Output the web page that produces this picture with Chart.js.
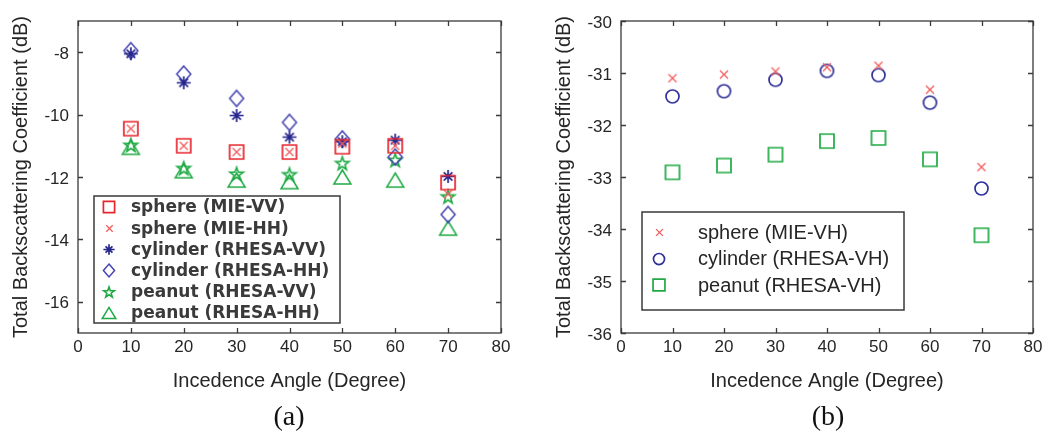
<!DOCTYPE html>
<html>
<head>
<meta charset="utf-8">
<script src="https://cdn.jsdelivr.net/npm/chart.js@4"></script>
<style>
  html, body { margin: 0; padding: 0; background: #fff; }
  body { width: 1047px; height: 431px; position: relative; overflow: hidden; }
  canvas { position: absolute; top: 0; }
  #cA { left: 0; }
  #cB { left: 540px; }
  .cap { position: absolute; font-family: "Liberation Serif", "DejaVu Serif", serif; font-size: 28px; color: #111; transform: translate(-50%, -50%); top: 416px; }
</style>
</head>
<body>
<canvas id="cA" width="520" height="431"></canvas>
<canvas id="cB" width="507" height="431"></canvas>
<div class="cap" style="left:289px">(a)</div>
<div class="cap" style="left:828px">(b)</div>
<script>
// ---------- data ----------
const angles = [10, 20, 30, 40, 50, 60, 70];
const xTicks = [0, 10, 20, 30, 40, 50, 60, 70, 80];
const leftYTicks = [-16, -14, -12, -10, -8];
const rightYTicks = [-36, -35, -34, -33, -32, -31, -30];

const sphereVV   = [-10.45, -11.0, -11.2, -11.2, -11.03, -11.0, -12.18];
const sphereHH   = [-10.45, -11.0, -11.2, -11.2, -10.93, -11.0, -12.55];
const cylinderVV = [-8.05, -8.98, -10.03, -10.72, -10.87, -10.82, -11.98];
const cylinderHH = [-7.95, -8.7, -9.48, -10.25, -10.78, -11.36, -13.2];
const peanutVV   = [-10.98, -11.72, -11.9, -11.92, -11.56, -11.46, -12.63];
const peanutHH   = [-11.05, -11.8, -12.1, -12.15, -12.0, -12.1, -13.64];

const sphereVH   = [-31.1, -31.03, -30.97, -30.89, -30.86, -31.32, -32.81];
const cylinderVH = [-31.45, -31.35, -31.13, -30.96, -31.04, -31.57, -33.22];
const peanutVH   = [-32.91, -32.78, -32.57, -32.31, -32.25, -32.66, -34.12];

const labelsA = ['sphere (MIE-VV)', 'sphere (MIE-HH)', 'cylinder (RHESA-VV)', 'cylinder (RHESA-HH)', 'peanut (RHESA-VV)', 'peanut (RHESA-HH)'];
const labelsB = ['sphere (MIE-VH)', 'cylinder (RHESA-VH)', 'peanut (RHESA-VH)'];

// ---------- marker images ----------
function marker(type, color, w, h, lw, scale) {
  scale = scale || 1;
  w *= scale; h *= scale;
  const pad = 3;
  const c = document.createElement('canvas');
  c.width = Math.ceil(w + pad * 2);
  c.height = Math.ceil(h + pad * 2);
  const g = c.getContext('2d');
  g.strokeStyle = color;
  g.lineWidth = lw;
  g.lineJoin = 'miter';
  const cx = c.width / 2, cy = c.height / 2;
  const hw = w / 2, hh = h / 2;
  g.beginPath();
  if (type === 'square') {
    g.rect(cx - hw, cy - hh, w, h);
  } else if (type === 'x') {
    g.moveTo(cx - hw, cy - hh); g.lineTo(cx + hw, cy + hh);
    g.moveTo(cx + hw, cy - hh); g.lineTo(cx - hw, cy + hh);
  } else if (type === 'star') {
    g.moveTo(cx - hw, cy); g.lineTo(cx + hw, cy);
    g.moveTo(cx, cy - hh); g.lineTo(cx, cy + hh);
    const d = 0.62;
    g.moveTo(cx - hw * d, cy - hh * d); g.lineTo(cx + hw * d, cy + hh * d);
    g.moveTo(cx + hw * d, cy - hh * d); g.lineTo(cx - hw * d, cy + hh * d);
  } else if (type === 'diamond') {
    g.moveTo(cx, cy - hh); g.lineTo(cx + hw, cy); g.lineTo(cx, cy + hh); g.lineTo(cx - hw, cy); g.closePath();
  } else if (type === 'pentagram') {
    const R = hw, r = hw * 0.4;
    for (let i = 0; i < 10; i++) {
      const a = -Math.PI / 2 + i * Math.PI / 5;
      const rr = i % 2 === 0 ? R : r;
      const px = cx + rr * Math.cos(a), py = cy + 0.5 + rr * Math.sin(a);
      if (i === 0) g.moveTo(px, py); else g.lineTo(px, py);
    }
    g.closePath();
  } else if (type === 'triangle') {
    g.moveTo(cx, cy - hh); g.lineTo(cx + hw, cy + hh); g.lineTo(cx - hw, cy + hh); g.closePath();
  } else if (type === 'circle') {
    g.arc(cx, cy, hw, 0, Math.PI * 2);
  }
  g.stroke();
  return c;
}

const RED = '#e8262e', PINK = '#f25c5c', NAVY = '#26268f', BLUE = '#4444b0', GREEN = '#1faa44', CBLUE = '#30309a';

const specA = [
  ['square', RED, 14, 14, 1.7],
  ['x', PINK, 8, 8, 1.3],
  ['star', NAVY, 14, 13, 1.7],
  ['diamond', BLUE, 14, 16, 1.5],
  ['pentagram', GREEN, 14, 14, 1.6],
  ['triangle', GREEN, 17, 14, 1.5]
];
const specB = [
  ['x', PINK, 8, 8, 1.3],
  ['circle', CBLUE, 13, 13, 1.7],
  ['square', GREEN, 14, 14, 1.7]
];
const seriesA = [sphereVV, sphereHH, cylinderVV, cylinderHH, peanutVV, peanutHH];
const seriesB = [sphereVH, cylinderVH, peanutVH];

function makeDatasets(series, spec, labels) {
  return series.map((vals, i) => ({
    label: labels[i],
    data: angles.map((a, k) => ({ x: a, y: vals[k] })),
    pointStyle: marker(...spec[i]),
    borderColor: spec[i][1],
    backgroundColor: spec[i][1],
    showLine: false
  }));
}

const TXT = '#262626', AX = '#3a3a3a';

// box + inner ticks (MATLAB style)
const boxPlugin = {
  id: 'boxPlugin',
  afterDatasetsDraw(chart) {
    const { ctx, chartArea: a, scales } = chart;
    ctx.save();
    ctx.strokeStyle = AX;
    ctx.lineWidth = 1.3;
    ctx.strokeRect(a.left, a.top, a.right - a.left, a.bottom - a.top);
    const tl = 5;
    ctx.beginPath();
    scales.x.ticks.forEach(t => {
      const px = Math.round(scales.x.getPixelForValue(t.value)) + 0.5;
      ctx.moveTo(px, a.bottom); ctx.lineTo(px, a.bottom - tl);
      ctx.moveTo(px, a.top); ctx.lineTo(px, a.top + tl);
    });
    scales.y.ticks.forEach(t => {
      const py = Math.round(scales.y.getPixelForValue(t.value)) + 0.5;
      ctx.moveTo(a.left, py); ctx.lineTo(a.left + tl, py);
      ctx.moveTo(a.right, py); ctx.lineTo(a.right - tl, py);
    });
    ctx.stroke();
    ctx.restore();
  }
};

// legend drawn inside plot area
const boxLegend = {
  id: 'boxLegend',
  afterDraw(chart, args, opts) {
    const { ctx } = chart;
    const [x0, y0, x1, y1] = opts.box;
    ctx.save();
    ctx.fillStyle = '#fff';
    ctx.fillRect(x0, y0, x1 - x0, y1 - y0);
    ctx.strokeStyle = AX;
    ctx.lineWidth = 1.5;
    ctx.strokeRect(x0, y0, x1 - x0, y1 - y0);
    ctx.font = opts.font;
    ctx.fillStyle = opts.color;
    ctx.textBaseline = 'middle';
    ctx.textAlign = 'left';
    chart.data.datasets.forEach((ds, i) => {
      const y = opts.rowY + i * opts.rowH;
      const m = marker(...opts.spec[i], opts.mScale);
      ctx.drawImage(m, Math.round(opts.markerX - m.width / 2), Math.round(y - m.height / 2));
      ctx.fillText(ds.label, opts.textX, y + 1);
    });
    ctx.restore();
  }
};

function makeChart(id, datasets, yMin, yMax, yTicks, yW, padLeft, padRight, titlePadTop, legendOpts) {
  return new Chart(document.getElementById(id), {
    type: 'scatter',
    data: { datasets },
    plugins: [boxPlugin, boxLegend],
    options: {
      responsive: false,
      animation: false,
      events: [],
      layout: { padding: { left: padLeft, right: padRight, top: 21, bottom: 38 } },
      elements: { point: { radius: 7 } },
      plugins: {
        legend: { display: false },
        tooltip: { enabled: false },
        boxLegend: legendOpts
      },
      scales: {
        x: {
          type: 'linear', min: 0, max: 80,
          afterBuildTicks: s => { s.ticks = xTicks.map(v => ({ value: v })); },
          afterFit: s => { s.height = 60; },
          grid: { display: false, drawTicks: false },
          border: { display: false },
          ticks: { color: TXT, font: { family: 'Liberation Sans, Arial, sans-serif', size: 17 }, padding: 4, maxRotation: 0, autoSkip: false },
          title: { display: true, text: 'Incedence Angle (Degree)', color: TXT, font: { family: 'Liberation Sans, Arial, sans-serif', size: 20, lineHeight: 1.2 }, padding: { top: 0, bottom: 0 } }
        },
        y: {
          type: 'linear', min: yMin, max: yMax,
          afterBuildTicks: s => { s.ticks = yTicks.map(v => ({ value: v })); },
          afterFit: s => { s.width = yW; },
          grid: { display: false, drawTicks: false },
          border: { display: false },
          ticks: { color: TXT, font: { family: 'Liberation Sans, Arial, sans-serif', size: 17 }, padding: 9, labelOffset: 2, autoSkip: false },
          title: { display: true, text: 'Total Backscattering Coefficient (dB)', color: TXT, font: { family: 'Liberation Sans, Arial, sans-serif', size: 20, lineHeight: 1.2 }, padding: { top: titlePadTop, bottom: 0 } }
        }
      }
    }
  });
}

makeChart('cA', makeDatasets(seriesA, specA, labelsA), -17, -7, leftYTicks, 78, 0, 19, 9, {
  box: [94, 196, 340, 323], font: 'bold 17px "DejaVu Sans", sans-serif', color: '#3a3a3a',
  rowY: 207, rowH: 21.2, markerX: 109, textX: 131, spec: specA, mScale: 0.8
});
makeChart('cB', makeDatasets(seriesB, specB, labelsB), -36, -30, rightYTicks, 81, 0, 14, 12, {
  box: [102, 212, 364, 310], font: '20px "Liberation Sans", Arial, sans-serif', color: TXT,
  rowY: 232, rowH: 26.5, markerX: 119, textX: 158, spec: specB, mScale: 0.85
});
</script>
</body>
</html>
